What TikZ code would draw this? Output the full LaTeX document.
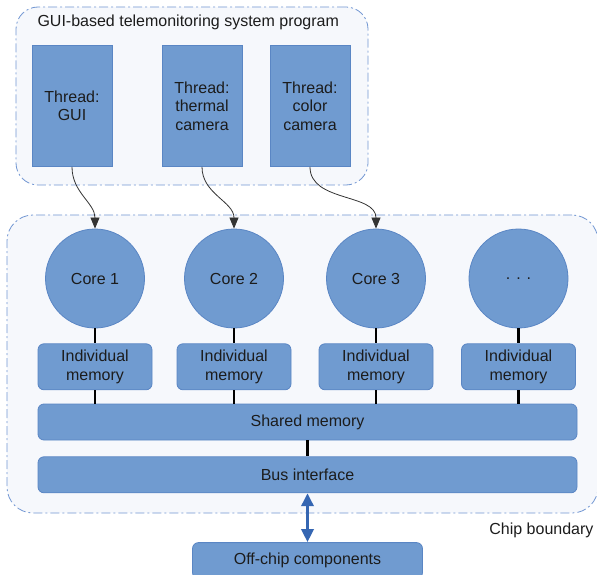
\documentclass[tikz,border=0pt]{standalone}
\usepackage{fontspec}
\setmainfont{Liberation Sans}
\usepackage{xcolor}
\usetikzlibrary{shapes.geometric, arrows.meta, positioning}

\definecolor{boxfill}{HTML}{709BD0}
\definecolor{boxline}{HTML}{5A86C4}
\definecolor{areafill}{HTML}{F6F8FC}
\definecolor{arealine}{HTML}{7196D2}
\definecolor{busarrow}{HTML}{3566B2}
\definecolor{txt}{HTML}{1C1C1C}

\tikzset{
  area/.style={draw=arealine, fill=areafill, line width=0.8pt, rounded corners=22pt,
    dash pattern=on 9pt off 3pt on 2pt off 3pt},
  thread/.style={draw=boxline, fill=boxfill, line width=0.8pt, align=center,
    minimum width=80pt, minimum height=121pt, inner sep=2pt},
  core/.style={circle, draw=boxline, fill=boxfill, line width=0.8pt,
    minimum size=99pt, inner sep=0pt},
  memory/.style={draw=boxline, fill=boxfill, line width=0.8pt, rounded corners=6pt,
    align=center, minimum width=114pt, minimum height=46pt, inner sep=1pt},
  wide/.style={draw=boxline, fill=boxfill, line width=0.8pt, rounded corners=6pt,
    minimum width=539pt, minimum height=36pt},
  link/.style={line width=2.6pt, black},
  flow/.style={draw=black!80, line width=0.8pt, -{Triangle[length=11pt,width=9pt]}}
}

\begin{document}
\begin{tikzpicture}[x=1pt, y=1pt, every node/.style={font=\fontsize{16}{18.5}\selectfont, text=txt}]
\useasboundingbox (0,0) rectangle (597,574);

\node[area, minimum width=352pt, minimum height=178pt] (program) at (192,478) {};
\node[anchor=west] (progtitle) at (34,552) {GUI-based telemonitoring system program};
\node[thread] (gui) at (72,468) {Thread:\\GUI};
\node[thread] (thermal) at (202,468) {Thread:\\thermal\\camera};
\node[thread] (color) at (310,468) {Thread:\\color\\camera};

\node[area, rounded corners=26pt, minimum width=591pt, minimum height=298pt] (chip) at (302.5,210) {};
\node[anchor=east] (chiplabel) at (597,44) {Chip boundary};

\node[core] (core1) at (95,295.5) {Core 1};
\node[core] (core2) at (234,295.5) {Core 2};
\node[core] (core3) at (376,295.5) {Core 3};
\node[core] (core4) at (518.5,295.5) {. . .};

\node[memory, below=15pt of core1] (mem1) {Individual\\memory};
\node[memory, below=15pt of core2] (mem2) {Individual\\memory};
\node[memory, below=15pt of core3] (mem3) {Individual\\memory};
\node[memory, below=15pt of core4] (mem4) {Individual\\memory};

\node[wide] (shared) at (307.5,152) {Shared memory};
\node[wide, below=16pt of shared] (bus) {Bus interface};
\node[draw=boxline, fill=boxfill, line width=0.8pt, rounded corners=6pt,
  minimum width=230pt, minimum height=36pt, below=49pt of bus] (offchip) {Off-chip components};

\foreach \i in {1,...,4} {
  \draw[link] (core\i.south) -- (mem\i.north);
  \draw[link] (mem\i.south) -- (mem\i.south |- shared.north);
}
\draw[link] (shared.south) -- (bus.north);

\draw[flow] (gui.south) to[out=-90, in=90] (core1.north);
\draw[flow] (thermal.south) to[out=-90, in=90] (core2.north);
\draw[flow] (color.south) to[out=-90, in=90] (core3.north);

\draw[busarrow, line width=3.5pt, {Triangle[length=13pt,width=12pt]}-{Triangle[length=13pt,width=12pt]}]
  (bus.south) -- (offchip.north);
\end{tikzpicture}
\end{document}
